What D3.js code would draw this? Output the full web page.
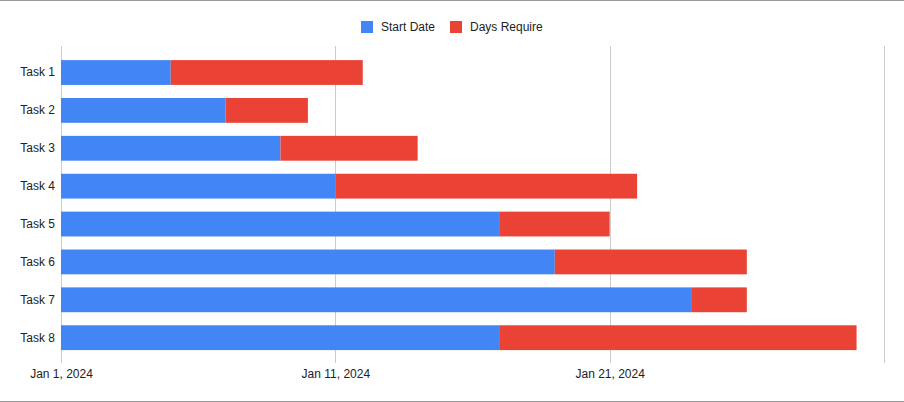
<!DOCTYPE html>
<html>
<head>
<meta charset="utf-8">
<script src="https://cdn.jsdelivr.net/npm/d3@7"></script>
<style>
html,body{margin:0;padding:0;background:#fff;}
svg{display:block;font-family:"Liberation Sans",Arial,sans-serif;}
</style>
</head>
<body>
<svg id="chart" width="904" height="402"></svg>
<script>
const tasks = ["Task 1","Task 2","Task 3","Task 4","Task 5","Task 6","Task 7","Task 8"];
const startDates = ["2024-01-05","2024-01-07","2024-01-09","2024-01-11","2024-01-17","2024-01-19","2024-01-24","2024-01-17"];
const daysRequire = [7,3,5,11,4,7,2,13];
const seriesNames = ["Start Date","Days Require"];
const seriesColors = ["#4285f4","#ea4335"];
const tickDates = ["2024-01-01","2024-01-11","2024-01-21","2024-01-31"];
const tickLabels = ["Jan 1, 2024","Jan 11, 2024","Jan 21, 2024",""];

const parse = d3.utcParse("%Y-%m-%d");
const svg = d3.select("#chart");
const W = 904, H = 402;
const DAY = 864e5;

const x = d3.scaleUtc().domain([parse("2024-01-01"), parse("2024-01-31")]).range([61, 884]);
const y = d3.scaleBand().domain(tasks).range([53.6, 356.6]).paddingInner(0.345).paddingOuter(0.172);

// border lines
svg.append("line").attr("x1",0).attr("x2",W).attr("y1",0.5).attr("y2",0.5).attr("stroke","#9a9a9a");
svg.append("line").attr("x1",0).attr("x2",W).attr("y1",401.5).attr("y2",401.5).attr("stroke","#9a9a9a");

// gridlines
const ticks = tickDates.map(parse);
svg.append("g").selectAll("line").data(ticks).join("line")
  .attr("x1", d => Math.round(x(d)) + 0.5).attr("x2", d => Math.round(x(d)) + 0.5)
  .attr("y1", 46).attr("y2", 363).attr("stroke", "#cccccc");

// x axis labels
const xAxis = d3.axisBottom(x).tickValues(ticks).tickSize(0)
  .tickFormat((d,i) => tickLabels[i]);
const gx = svg.append("g").attr("transform","translate(0,366)").call(xAxis);
gx.select(".domain").remove();
gx.selectAll("text").attr("font-size", 12).attr("fill", "#222").attr("font-family","Liberation Sans, Arial, sans-serif");

// y axis labels
const yAxis = d3.axisLeft(y).tickSize(0).tickPadding(6);
const gy = svg.append("g").attr("transform","translate(61,0)").call(yAxis);
gy.select(".domain").remove();
gy.selectAll("text").attr("font-size", 12).attr("fill", "#222").attr("font-family","Liberation Sans, Arial, sans-serif");

// bars
const rows = tasks.map((t,i) => {
  const s = parse(startDates[i]);
  const e = new Date(s.getTime() + daysRequire[i]*DAY);
  return {t, s, e};
});
const gb = svg.append("g");
gb.selectAll("rect.start").data(rows).join("rect").attr("class","start")
  .attr("x", x(parse("2024-01-01"))).attr("y", d => y(d.t))
  .attr("width", d => x(d.s) - x(parse("2024-01-01"))).attr("height", y.bandwidth())
  .attr("fill", seriesColors[0]);
gb.selectAll("rect.days").data(rows).join("rect").attr("class","days")
  .attr("x", d => x(d.s)).attr("y", d => y(d.t))
  .attr("width", d => x(d.e) - x(d.s)).attr("height", y.bandwidth())
  .attr("fill", seriesColors[1]);

// legend
const legendX = [361, 450];
const lg = svg.append("g");
seriesNames.forEach((n,i) => {
  lg.append("rect").attr("x", legendX[i]).attr("y", 21).attr("width", 12).attr("height", 12)
    .attr("fill", seriesColors[i]);
  lg.append("text").attr("x", legendX[i] + 20).attr("y", 31).attr("font-size", 12)
    .attr("fill", "#222").text(n);
});
</script>
</body>
</html>
